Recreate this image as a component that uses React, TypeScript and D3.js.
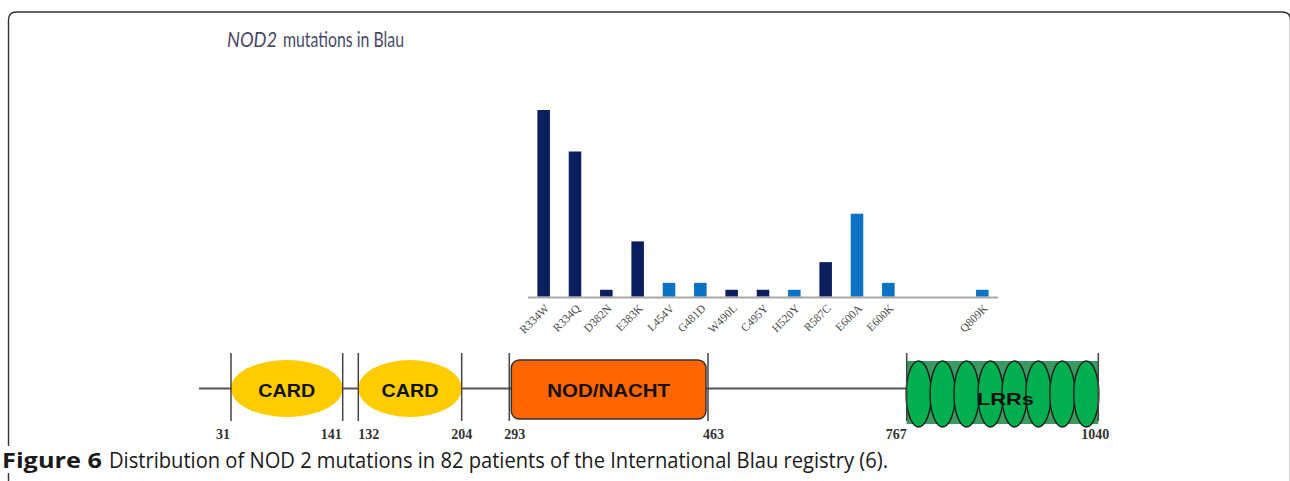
import React from 'react';
import * as d3 from 'd3';

// mutation slots along the bar axis (null = empty slot)
const mutations = ['R334W', 'R334Q', 'D382N', 'E383K', 'L454V', 'G481D', 'W490L', 'C495Y', 'H520Y', 'R587C', 'E600A', 'E600K', null, null, 'Q809K'];
const patientCounts = [27, 21, 1, 8, 2, 2, 1, 1, 1, 5, 12, 2, null, null, 1];
const mutationGroup = ['a', 'a', 'a', 'a', 'b', 'b', 'a', 'a', 'b', 'a', 'b', 'b', null, null, 'b'];

// protein domains (residue numbers)
const domainNames = ['CARD', 'CARD', 'NOD/NACHT', 'LRRs'];
const domainStart = [31, 132, 293, 767];
const domainEnd = [141, 204, 463, 1040];
const lrrRepeats = ['LRR1', 'LRR2', 'LRR3', 'LRR4', 'LRR5', 'LRR6', 'LRR7', 'LRR8'];

const W = 1290;
const H = 481;

const App = () => {
  // bar chart scales
  const x = d3.scaleBand<string>()
    .domain(mutations.map((_, i) => String(i)))
    .range([528, 998])
    .paddingInner(0.6)
    .paddingOuter(0.3);
  const y = d3.scaleLinear().domain([0, 27]).range([296.7, 110]);
  const color = d3.scaleOrdinal<string, string>().domain(['a', 'b']).range(['#0b1f5e', '#0b72c4']);

  // schematic (not to scale) position of residues along the protein track
  const track = d3.scaleLinear()
    .domain([31, 141, 204, 293, 463, 767, 1040])
    .range([231, 342.7, 461.7, 509.3, 708, 906.7, 1098.3]);
  const cardGap = 15.6;
  const startX = (i: number) => (i === 1 ? track(domainEnd[0]) + cardGap : track(domainStart[i]));
  const endX = (i: number) => track(domainEnd[i]);

  const lineY = 388.5;
  const ticks: { label: string; x: number; anchor: string; dx: number }[] = [];
  domainNames.forEach((_, i) => {
    const anchors = [['end', 'end'], ['start', 'middle'], ['start', 'start'], ['end', 'middle']][i];
    const offs = [[-1, -1], [0, 0], [-5, -5], [0, -3]][i];
    ticks.push({ label: String(domainStart[i]), x: startX(i), anchor: anchors[0], dx: offs[0] });
    ticks.push({ label: String(domainEnd[i]), x: endX(i), anchor: anchors[1], dx: offs[1] });
  });

  const lrrBand = d3.scaleBand<string>().domain(lrrRepeats).range([startX(3), endX(3)]).padding(0);

  return (
    <svg width={W} height={H} style={{ position: 'absolute', left: 0, top: 0, background: '#fff' }}>
      {/* frame */}
      <path d={`M8.5,${H} V20 Q8.5,12 16.5,12 H1282 Q1290.5,12 1290.5,20 V${H}`} fill="none" stroke="#333" strokeWidth={1.4} />

      {/* title */}
      <text x={227} y={47} fontFamily="Lato, 'Open Sans', sans-serif" fontStyle="italic" fontSize={22} fill="#4a4a68"
        textLength={50} lengthAdjust="spacingAndGlyphs">NOD2</text>
      <text x={283} y={47} fontFamily="Lato, 'Open Sans', sans-serif" fontSize={22} fill="#4a4a68"
        textLength={121} lengthAdjust="spacingAndGlyphs">mutations in Blau</text>

      {/* bars */}
      {mutations.map((m, i) => m && patientCounts[i] != null ? (
        <rect key={m} x={x(String(i))} y={y(patientCounts[i] as number)} width={x.bandwidth()}
          height={y(0) - y(patientCounts[i] as number)} fill={color(mutationGroup[i] as string)} />
      ) : null)}
      <line x1={528} x2={998} y1={y(0) + 0.8} y2={y(0) + 0.8} stroke="#a8a8a8" strokeWidth={2.2} />
      {mutations.map((m, i) => m ? (
        <text key={'l' + m} transform={`translate(${(x(String(i)) as number) + x.bandwidth() / 2 + 6},${309}) rotate(-45)`}
          textAnchor="end" fontFamily="'Liberation Serif', serif" fontSize={11.5} fill="#4a4a4a">{m}</text>
      ) : null)}

      {/* protein track */}
      <line x1={199} x2={track(1040)} y1={lineY} y2={lineY} stroke="#555" strokeWidth={2} />
      {/* CARD domains */}
      {[0, 1].map(i => (
        <g key={'card' + i}>
          <ellipse cx={(startX(i) + endX(i)) / 2} cy={lineY} rx={(endX(i) - startX(i)) / 2} ry={28.5} fill="#ffcc00" />
          <text x={(startX(i) + endX(i)) / 2} y={396.5} textAnchor="middle" fontFamily="'Liberation Sans', Arial, sans-serif"
            fontWeight="bold" fontSize={18} fill="#111" textLength={57} lengthAdjust="spacingAndGlyphs">{domainNames[i]}</text>
        </g>
      ))}
      {/* NOD domain */}
      <rect x={startX(2) + 2} y={360} width={endX(2) - startX(2) - 4} height={59} rx={8} fill="#ff6600" stroke="#333" strokeWidth={1.5} />
      <text x={(startX(2) + endX(2)) / 2} y={397} textAnchor="middle" fontFamily="'Liberation Sans', Arial, sans-serif"
        fontWeight="bold" fontSize={18} fill="#111" textLength={123} lengthAdjust="spacingAndGlyphs">{domainNames[2]}</text>
      {/* LRR domain */}
      <rect x={startX(3)} y={361} width={endX(3) - startX(3)} height={63} fill="#3a9a60" />
      {lrrRepeats.map(r => (
        <ellipse key={r} cx={(lrrBand(r) as number) + lrrBand.bandwidth() / 2} cy={394} rx={lrrBand.bandwidth() / 2 + 0.6} ry={33}
          fill="#00b050" stroke="#1a1a1a" strokeWidth={1.4} />
      ))}
      <text x={(startX(3) + endX(3)) / 2 + 3} y={405} textAnchor="middle" fontFamily="'Liberation Sans', Arial, sans-serif"
        fontWeight="bold" fontSize={17} fill="#111" textLength={57} lengthAdjust="spacingAndGlyphs">{domainNames[3]}</text>

      {/* domain boundary ticks */}
      {ticks.map((t, i) => (
        <g key={'t' + i}>
          <line x1={t.x} x2={t.x} y1={353} y2={421} stroke="#444" strokeWidth={1.5} />
          <text x={t.x + t.dx} y={439} textAnchor={t.anchor} fontFamily="'Liberation Serif', serif" fontWeight="bold"
            fontSize={14} fill="#333">{t.label}</text>
        </g>
      ))}

      {/* caption */}
      <rect x={0} y={446} width={900} height={27} fill="#fff" />
      <text x={2} y={468} fontFamily="'Open Sans', 'Noto Sans', sans-serif" fontWeight="bold" fontSize={21} fill="#1a1a1a"
        textLength={100} lengthAdjust="spacingAndGlyphs">Figure 6</text>
      <text x={109} y={468} fontFamily="'Open Sans', 'Noto Sans', sans-serif" fontWeight={500} fontSize={21} fill="#1a1a1a"
        textLength={779} lengthAdjust="spacingAndGlyphs">Distribution of NOD 2 mutations in 82 patients of the International Blau registry (6).</text>
    </svg>
  );
};

export default App;
